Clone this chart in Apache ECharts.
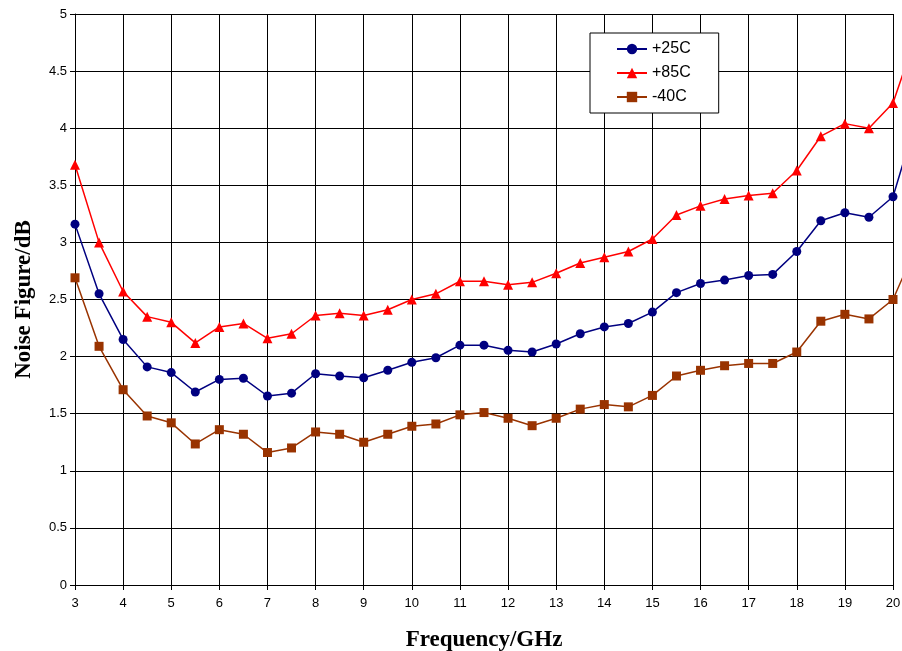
<!DOCTYPE html>
<html>
<head>
<meta charset="utf-8">
<script src="https://cdn.jsdelivr.net/npm/echarts@6/dist/echarts.min.js"></script>
<style>html,body{margin:0;padding:0;background:#fff;}#c{width:902px;height:651px;}</style>
</head>
<body>
<div id="c"></div>
<script>
const freqs = [3,3.5,4,4.5,5,5.5,6,6.5,7,7.5,8,8.5,9,9.5,10,10.5,11,11.5,12,12.5,13,13.5,14,14.5,15,15.5,16,16.5,17,17.5,18,18.5,19,19.5,20,20.5];
const nf25 = [3.16,2.55,2.15,1.91,1.86,1.69,1.80,1.81,1.655,1.68,1.85,1.83,1.815,1.88,1.95,1.99,2.10,2.10,2.055,2.04,2.11,2.20,2.26,2.29,2.39,2.56,2.64,2.67,2.71,2.72,2.92,3.19,3.26,3.22,3.40,4.10];
const nf85 = [3.68,3.00,2.57,2.35,2.30,2.12,2.26,2.29,2.16,2.20,2.36,2.38,2.36,2.41,2.50,2.55,2.66,2.66,2.63,2.65,2.73,2.82,2.87,2.92,3.03,3.24,3.32,3.38,3.41,3.43,3.63,3.93,4.04,4.00,4.22,4.84];
const nfm40 = [2.69,2.09,1.71,1.48,1.42,1.235,1.36,1.32,1.16,1.20,1.34,1.32,1.25,1.32,1.39,1.41,1.49,1.51,1.46,1.395,1.46,1.54,1.58,1.56,1.66,1.83,1.88,1.92,1.94,1.94,2.04,2.31,2.37,2.33,2.50,2.98];
const seriesNames = ['+25C','+85C','-40C'];
const xTitle = 'Frequency/GHz';
const yTitle = 'Noise Figure/dB';

const X_MIN = 3, X_MAX = 20, X_DATA_MAX = 20.5;
const G_LEFT = 75, G_RIGHT = 9, W = 902;
const plotW = W - G_LEFT - G_RIGHT;
const extRight = W - G_LEFT - plotW * (X_DATA_MAX - X_MIN) / (X_MAX - X_MIN);

const pair = arr => freqs.map((f,i)=>[f,arr[i]]);
const chart = echarts.init(document.getElementById('c'));
const mk = (name, data, color, symbol, size) => ({
  name, type:'line', data: pair(data), clip:false,
  xAxisIndex:1, yAxisIndex:1,
  symbol, symbolSize:size,
  lineStyle:{color, width:1.5},
  itemStyle:{color},
  emphasis:{disabled:true},
  animation:false
});
const hidden = {show:false};
chart.setOption({
  animation:false,
  grid:[
    {left:G_LEFT, right:G_RIGHT, top:14, bottom:66, containLabel:false, outerBoundsMode:'none'},
    {left:G_LEFT, right:extRight, top:14, bottom:66, containLabel:false, outerBoundsMode:'none'}
  ],
  legend:{
    orient:'vertical', left:590, top:33,
    padding:[8,28,8,26], itemGap:8, itemWidth:30, itemHeight:13,
    backgroundColor:'#fff', borderColor:'#000', borderWidth:1,
    textStyle:{fontFamily:'Liberation Sans', fontSize:16, color:'#000'},
    data: seriesNames
  },
  xAxis:[{
    gridIndex:0, type:'value', min:X_MIN, max:X_MAX, interval:1,
    name:xTitle, nameLocation:'middle', nameGap:44,
    nameTextStyle:{fontFamily:'Liberation Serif', fontWeight:'bold', fontSize:23, color:'#000'},
    axisLine:{show:true, lineStyle:{color:'#000', width:1}},
    axisTick:{show:true, length:5, lineStyle:{color:'#000'}},
    axisLabel:{fontFamily:'Liberation Sans', fontSize:13, color:'#000', margin:12},
    splitLine:{show:true, lineStyle:{color:'#000', width:1}}
  },{
    gridIndex:1, type:'value', min:X_MIN, max:X_DATA_MAX,
    axisLine:hidden, axisTick:hidden, axisLabel:hidden, splitLine:hidden
  }],
  yAxis:[{
    gridIndex:0, type:'value', min:0, max:5, interval:0.5,
    name:yTitle, nameLocation:'middle', nameGap:39, nameRotate:90,
    nameTextStyle:{fontFamily:'Liberation Serif', fontWeight:'bold', fontSize:23, color:'#000'},
    axisLine:{show:true, lineStyle:{color:'#000', width:1}},
    axisTick:{show:true, length:5, lineStyle:{color:'#000'}},
    axisLabel:{fontFamily:'Liberation Sans', fontSize:13, color:'#000', margin:8},
    splitLine:{show:true, lineStyle:{color:'#000', width:1}}
  },{
    gridIndex:1, type:'value', min:0, max:5,
    axisLine:hidden, axisTick:hidden, axisLabel:hidden, splitLine:hidden
  }],
  series:[
    mk(seriesNames[0], nf25, '#000080', 'circle', 9),
    mk(seriesNames[1], nf85, '#FF0000', 'triangle', 10),
    mk(seriesNames[2], nfm40, '#993300', 'rect', 9)
  ]
});
</script>
</body>
</html>
